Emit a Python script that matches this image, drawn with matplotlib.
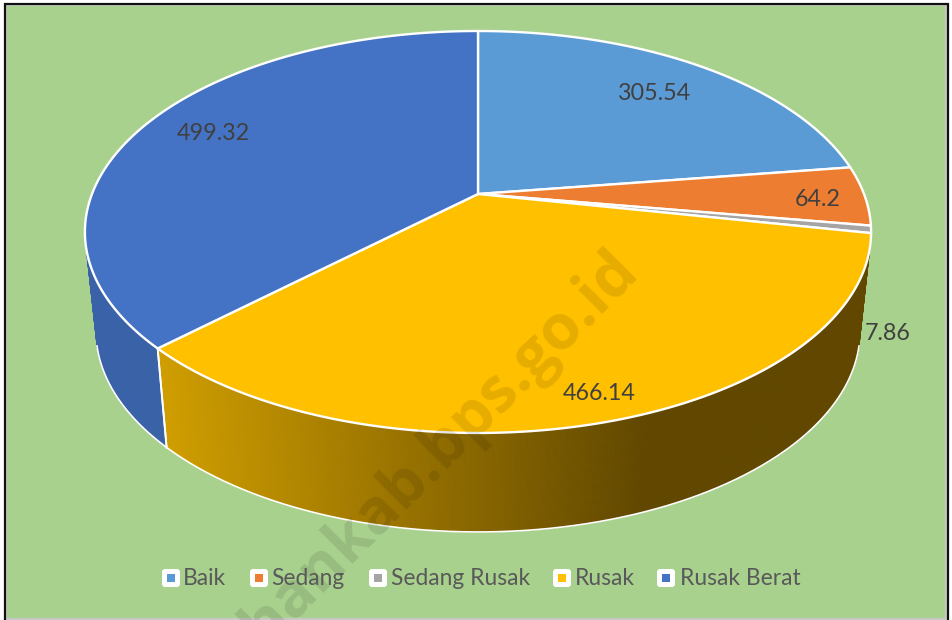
import numpy as np
import matplotlib
matplotlib.use("Agg")
import matplotlib.pyplot as plt
from matplotlib.patches import Polygon, Rectangle, FancyBboxPatch
from matplotlib.collections import PolyCollection

categories = ["Baik", "Sedang", "Sedang Rusak", "Rusak", "Rusak Berat"]
values = [305.54, 64.2, 7.86, 466.14, 499.32]
colors = ["#5B9BD5", "#ED7D31", "#A5A5A5", "#FFC000", "#4472C4"]
label_texts = ["305.54", "64.2", "7.86", "466.14", "499.32"]
label_xy = [(655, 94), (818, 200), (888, 333), (599, 393), (213, 133)]
legend_box_x = [162, 250, 369, 553, 657]
legend_text_x = [183, 271, 391, 575, 680]

CX, CY, A, B, K = 478.0, 194.0, 386.0, 193.8, 0.189
DEPTH, SHRINK = 99.0, 0.972
WALL_FROM, WALL_TO = np.radians(105), np.radians(255)

plt.rcParams["font.family"] = ["Lato", "DejaVu Sans"]
fig = plt.figure(figsize=(9.52, 6.2), dpi=100, facecolor="white")
ax = fig.add_axes([0, 0, 1, 1])
ax.set_xlim(0, 952)
ax.set_ylim(620, 0)
ax.axis("off")

ax.add_patch(Rectangle((6, 5), 939.5, 613.5, facecolor="#A9D18E", edgecolor="#C8C8C8", lw=1.5, zorder=0))
ax.plot([4.5, 4.5, 947.5, 947.5], [620, 4, 4, 620], color="#111111", lw=1.6, zorder=0.5, solid_joinstyle="miter")


def top(theta):
    x, y = np.sin(theta), np.cos(theta)
    d = 1 + K * y
    return CX + A * x / d, CY - B * y / d


def bottom(theta):
    X, Y = top(theta)
    return CX + (X - CX) * SHRINK, Y + DEPTH


def mix(c1, c2, t):
    return tuple((1 - t) * a + t * b for a, b in zip(c1, c2))


edges = np.concatenate([[0], np.cumsum(values)]) / np.sum(values) * 2 * np.pi

# side walls
for i, (a0, a1) in enumerate(zip(edges[:-1], edges[1:])):
    lo, hi = max(a0, WALL_FROM), min(a1, WALL_TO)
    if hi <= lo:
        continue
    th = np.linspace(lo, hi, max(2, int((hi - lo) * 220)))
    tx, ty = top(th)
    bx, by = bottom(th)
    quads, fc = [], []
    for j in range(len(th) - 1):
        quads.append([(tx[j], ty[j]), (tx[j + 1], ty[j + 1]), (bx[j + 1], by[j + 1]), (bx[j], by[j])])
        xm = (bx[j] + bx[j + 1]) / 2
        if categories[i] == "Rusak":
            t = np.clip((xm - 166) / (640 - 166), 0, 1)
            fc.append(mix((0.82, 0.62, 0.0), (0.38, 0.28, 0.0), t))
        else:
            fc.append(matplotlib.colors.to_rgb("#3A62A8"))
    ax.add_collection(PolyCollection(quads, facecolors=fc, edgecolors=fc, linewidths=0.6, zorder=1))
    ax.plot(bx, by, color="white", lw=1.2, zorder=1.5, solid_capstyle="round")
    for e in (a0, a1):
        if WALL_FROM < e < WALL_TO:
            ex, ey = top(e)
            fx, fy = bottom(e)
            ax.plot([ex, fx], [ey, fy], color="white", lw=1.3, zorder=1.5)

# top faces
for i, (a0, a1) in enumerate(zip(edges[:-1], edges[1:])):
    th = np.linspace(a0, a1, 240)
    X, Y = top(th)
    pts = np.vstack([[CX, CY], np.column_stack([X, Y])])
    ax.add_patch(Polygon(pts, closed=True, facecolor=colors[i], edgecolor="white", lw=1.7, joinstyle="round", zorder=2))

# data labels
for s, (x, y) in zip(label_texts, label_xy):
    ax.text(x, y, s, fontsize=16.8, color="#404040", ha="center", va="center", zorder=4)

# legend
for name, bx0, tx0, c in zip(categories, legend_box_x, legend_text_x, colors):
    ax.add_patch(FancyBboxPatch((bx0 + 2, 571), 14, 14, boxstyle="round,pad=2,rounding_size=3", facecolor="white", edgecolor="none", zorder=4))
    ax.add_patch(Rectangle((bx0 + 5, 574), 8, 8, facecolor=c, edgecolor="none", zorder=5))
    ax.text(tx0, 578.5, name, fontsize=16.4, color="#595959", ha="left", va="center", zorder=4)

# watermark
ax.text(640, 272, "hankab.bps.go.id", fontsize=45, fontweight="bold", family="Open Sans", color="black", alpha=0.1,
        rotation=45, rotation_mode="anchor", ha="right", va="baseline", zorder=3, clip_on=True)

fig.savefig("out.png", dpi=100, facecolor="white")
